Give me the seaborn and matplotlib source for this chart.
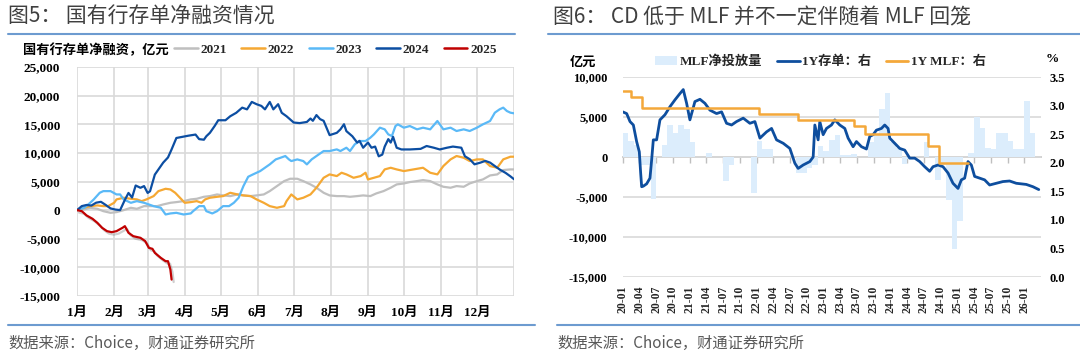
import matplotlib
matplotlib.use("Agg")
import matplotlib.pyplot as plt
import matplotlib.patheffects as pe
from matplotlib.lines import Line2D
from matplotlib.patches import Patch
import numpy as np
import pandas as pd
import seaborn as sns

# ---------------- data: left chart (cumulative net financing, 亿元) ----------------
month_labels = ["1月", "2月", "3月", "4月", "5月", "6月", "7月", "8月", "9月", "10月", "11月", "12月"]
month_start_days = [0, 31, 59, 90, 120, 151, 181, 212, 243, 273, 304, 334]
year_labels = ["2021", "2022", "2023", "2024", "2025"]

days_2021 = [0, 6, 11, 17, 22, 28, 33, 39, 45, 50, 56, 61, 67, 72, 78, 83, 89, 95, 100, 106, 111, 117, 122,
             128, 134, 139, 145, 150, 156, 161, 167, 173, 178, 184, 189, 195, 200, 206, 211, 217, 223, 228,
             234, 239, 245, 250, 256, 262, 267, 273, 278, 284, 289, 295, 301, 306, 312, 317, 323, 328, 334,
             339, 345, 351, 356, 362, 365]
net_2021 = [0, 120, 410, 230, -180, -470, -350, 0, 410, 230, 700, 700, 700, 990, 1280, 1400, 1570, 1870,
            1980, 2330, 2450, 2740, 2570, 2450, 2740, 2570, 2450, 2570, 2740, 3320, 4200, 5070, 5480, 5480,
            5070, 4490, 3910, 3030, 2570, 2450, 2450, 2330, 2450, 2570, 2450, 2920, 3320, 3910, 4490, 4660,
            4900, 5070, 5250, 5070, 4490, 4080, 3910, 4200, 4080, 4660, 5070, 5360, 6060, 6240, 7000, 7110, 7110]

days_2022 = [0, 6, 11, 17, 22, 26, 31, 33, 39, 45, 50, 54, 58, 64, 68, 74, 78, 82, 86, 90, 95, 100, 104, 107,
             111, 117, 122, 128, 134, 139, 145, 150, 156, 161, 167, 173, 175, 179, 184, 189, 195, 200, 206,
             211, 217, 221, 225, 231, 237, 241, 243, 248, 253, 257, 262, 267, 273, 281, 289, 295, 301, 306,
             312, 317, 323, 328, 334, 339, 345, 351, 356, 362, 365]
net_2022 = [0, 410, 700, 820, 700, 700, 1280, 1870, 2160, 1980, 1870, 1570, 1870, 2450, 3320, 3730, 3610,
            3030, 2160, 1280, 1400, 1570, 1280, 1870, 2160, 2330, 2450, 3030, 2740, 2570, 2450, 1870, 1280,
            700, 410, 700, 1570, 2740, 1870, 2160, 2740, 3910, 5650, 6240, 5950, 6530, 6240, 5650, 5950,
            6530, 5360, 5650, 5950, 7110, 7400, 7110, 6820, 7110, 7400, 6530, 6240, 7700, 8860, 9450, 9150,
            8570, 8860, 8860, 7700, 7400, 8860, 9330, 9330]

days_2023 = [0, 6, 11, 14, 19, 22, 28, 33, 36, 39, 42, 45, 50, 56, 60, 64, 70, 74, 78, 83, 89, 95, 97, 102,
             106, 108, 113, 117, 122, 127, 131, 135, 139, 143, 147, 153, 159, 161, 166, 170, 174, 177, 179,
             184, 189, 192, 196, 200, 206, 211, 217, 220, 225, 228, 232, 236, 241, 245, 248, 253, 257, 260,
             263, 266, 268, 273, 278, 284, 289, 295, 301, 306, 312, 317, 323, 328, 334, 339, 345, 349, 353,
             356, 359, 362, 365]
net_2023 = [0, 410, 1280, 1870, 3030, 3320, 3320, 2740, 2740, 1870, 1570, 1280, 1570, 1280, 990, 700, 410,
            -760, -580, -470, -760, -580, -180, 700, 700, -180, -580, -180, 700, 700, 1280, 2160, 4200, 5830,
            6240, 6820, 7700, 7990, 8860, 9150, 9450, 8860, 8570, 8860, 8570, 7990, 8860, 9450, 10320, 10320,
            10610, 10320, 10900, 10320, 11490, 12070, 12070, 12650, 13230, 14400, 14110, 13230, 12940, 14690,
            14980, 14400, 14690, 14110, 14400, 14110, 15570, 14110, 14400, 13820, 14110, 13820, 14400, 14980,
            15570, 17020, 17610, 17900, 17320, 17020, 16910]

days_2024 = [0, 4, 8, 12, 16, 20, 24, 28, 32, 36, 40, 43, 46, 49, 53, 56, 59, 61, 65, 68, 72, 76, 79, 83,
             88, 93, 99, 102, 106, 108, 111, 115, 118, 124, 128, 133, 138, 142, 146, 150, 154, 157, 161, 164,
             168, 171, 175, 181, 186, 192, 195, 197, 200, 203, 206, 211, 217, 220, 223, 225, 230, 234, 236,
             239, 243, 246, 249, 252, 255, 257, 260, 262, 264, 267, 271, 278, 287, 292, 298, 303, 309, 314,
             321, 324, 328, 332, 337, 341, 345, 349, 353, 358, 362, 365]
net_2024 = [0, 700, 900, 800, 1300, 1450, 900, 300, 100, 0, 1800, 3000, 2200, 4300, 3900, 4200, 3000, 3300,
            6200, 7100, 8300, 9200, 10600, 12600, 12800, 13000, 13200, 12400, 12300, 12900, 13500, 14700,
            15700, 15700, 16400, 17000, 17900, 17600, 18900, 18500, 18200, 17600, 18900, 17600, 18500, 17000,
            16400, 15300, 15200, 15400, 16000, 15600, 16600, 15900, 15600, 13100, 13500, 14100, 15000, 13800,
            12900, 11800, 12100, 10900, 11800, 10900, 11100, 9400, 9700, 11100, 12400, 11800, 12800, 10900,
            10600, 10600, 10700, 11200, 10900, 10600, 10900, 11100, 10900, 9400, 8900, 8000, 8300, 8600, 8300,
            7700, 7100, 6500, 5900, 5400]

days_2025 = [0, 4, 8, 13, 17, 21, 25, 29, 33, 38, 40, 43, 47, 53, 57, 60, 63, 65, 70, 74, 76, 78, 79]
net_2025 = [0, -180, -930, -1520, -2220, -3090, -3670, -3850, -3670, -3090, -2800, -3960, -4550, -4840,
            -5420, -6590, -6760, -7460, -8340, -8920, -8920, -10380, -12130]

left_yticks = [25000, 20000, 15000, 10000, 5000, 0, -5000, -10000, -15000]
left_ytick_labels = ["25,000", "20,000", "15,000", "10,000", "5,000", "0", "-5,000", "-10,000", "-15,000"]

# ---------------- data: right chart ----------------
quarter_labels = ["20-01", "20-04", "20-07", "20-10", "21-01", "21-04", "21-07", "21-10",
                  "22-01", "22-04", "22-07", "22-10", "23-01", "23-04", "23-07", "23-10",
                  "24-01", "24-04", "24-07", "24-10", "25-01", "25-04", "25-07", "25-10", "26-01"]
# monthly MLF net injection (亿元), from 2020-01
mlf_net = [3000, 2000, 1500, -1000, -1000, -5200, 0, 1500, 4000, 3000,
           4000, 3500, 1900, 0, 0, 500, 0, 0, -3000, -1000,
           0, 0, 0, -4500, 2000, 1000, 1000, 0, 0, 0,
           0, -2000, -2000, -1400, -1000, 1400, 800, 2100, 2800, 200,
           250, 350, 0, 0, 1900, 2900, 6000, 8000, 1900, 1100,
           -900, -300, 0, 0, 1900, 0, -2900, -1000, -5400, -11500,
           -8000, 0, 550, 5000, 3600, 1100, 1000, 3000, 3000, 2000,
           1000, 1000, 7000, 3000]
# 1Y CD rate (%), x in months since 2020-01
cd_month = [0, 0.71, 1.31, 1.91, 2.5, 2.98, 3.22, 3.4, 3.7, 4.29,
            4.89, 5.19, 5.49, 6.08, 6.68, 7.58, 8.47, 9.37, 10.26, 10.86,
            11.46, 12.05, 12.95, 13.85, 14.74, 15.64, 16.83, 17.73, 18.62, 19.52,
            20.41, 21.61, 22.8, 23.7, 24.6, 25.79, 26.69, 27.58, 28.78, 29.97,
            30.87, 31.46, 32.36, 33.55, 34.15, 34.45, 35.04, 35.34, 35.94, 36.54,
            37.43, 38.03, 38.92, 39.82, 40.42, 41.31, 41.91, 42.81, 43.7, 44.3,
            44.9, 45.49, 46.39, 46.98, 47.58, 47.88, 48.77, 49.67, 50.57, 51.46,
            52.36, 53.25, 54.15, 55.04, 55.64, 56.54, 57.43, 58.33, 59.22, 60.12,
            60.72, 61.31, 61.91, 62.51, 63.1, 64.0, 64.89, 65.79, 66.98, 68.17,
            69.37, 70.57, 72.36, 73.55, 74.6]
cd_rate = [2.89, 2.86, 2.72, 2.66, 2.37, 2.19, 1.82, 1.58, 1.59, 1.63,
           1.73, 2.05, 2.40, 2.40, 2.75, 2.84, 2.98, 3.10, 3.21, 3.28,
           3.04, 2.75, 3.07, 3.11, 3.04, 2.92, 2.86, 2.89, 2.69, 2.66,
           2.72, 2.78, 2.69, 2.72, 2.43, 2.54, 2.60, 2.40, 2.34, 2.25,
           1.99, 1.90, 1.96, 2.02, 2.10, 2.66, 2.40, 2.72, 2.49, 2.60,
           2.66, 2.75, 2.66, 2.60, 2.43, 2.28, 2.37, 2.28, 2.24, 2.46,
           2.49, 2.57, 2.60, 2.66, 2.60, 2.43, 2.34, 2.25, 2.22, 2.08,
           2.08, 2.02, 1.93, 1.85, 1.93, 1.96, 1.93, 1.82, 1.64, 1.55,
           1.70, 1.73, 2.02, 1.96, 1.76, 1.73, 1.70, 1.61, 1.64, 1.67,
           1.68, 1.64, 1.62, 1.58, 1.53]
# 1Y MLF rate steps
mlf_change_dates = ["2020-01-01", "2020-02-17", "2020-04-15", "2022-01-17", "2022-08-15",
                    "2023-06-15", "2023-08-15", "2024-07-25", "2024-09-25", "2025-03-01"]
mlf_rate = [3.25, 3.15, 2.95, 2.85, 2.75, 2.65, 2.50, 2.30, 2.00, 2.00]

right_left_ticks = [10000, 5000, 0, -5000, -10000, -15000]
right_left_labels = ["10,000", "5,000", "0", "-5,000", "-10,000", "-15,000"]
right_right_ticks = [3.5, 3.0, 2.5, 2.0, 1.5, 1.0, 0.5, 0.0]
right_right_labels = ["3.5", "3.0", "2.5", "2.0", "1.5", "1.0", "0.5", "0.0"]

# ---------------- style ----------------
sns.set_theme(style="white")
SERIF = ["Liberation Serif", "Noto Sans CJK SC", "DejaVu Sans"]
SANS = ["Noto Sans CJK SC", "DejaVu Sans"]
plt.rcParams["font.family"] = SERIF

C21, C22, C23, C24, C25 = "#bfbfbf", "#f5a833", "#5ab9f7", "#0c4ea2", "#c00000"
BAR_C, CD_C, MLF_C = "#dcedfc", "#0e4e9e", "#f4a83a"
GRID_C = "#d9d9d9"
RULE_C = "#6d9bd0"
TITLE_C = "#404040"

fig = plt.figure(figsize=(10.8, 3.58), dpi=100)


def fx(p):
    return p / 1080.0


def fy(p):
    return 1.0 - p / 358.0


def rule(x0, x1, y):
    fig.add_artist(Line2D([fx(x0), fx(x1)], [fy(y), fy(y)], transform=fig.transFigure,
                          color=RULE_C, lw=1.5))


# ---------------- left panel ----------------
axL = fig.add_axes([fx(77), fy(296), (514 - 77) / 1080.0, (296 - 67) / 358.0])
series = [(days_2021, net_2021, C21), (days_2022, net_2022, C22), (days_2023, net_2023, C23),
          (days_2024, net_2024, C24), (days_2025, net_2025, C25)]
for d, v, c in series:
    sns.lineplot(x=d, y=v, ax=axL, color=c, linewidth=1.6, estimator=None, sort=False)
axL.lines[-1].set_path_effects([pe.SimpleLineShadow(offset=(1.5, -1.8), shadow_color="#777777", alpha=0.35),
                                pe.Normal()])
axL.set_xlim(0, 365)
axL.set_ylim(-15000, 25000)
axL.set_xticks(month_start_days + [365])
axL.set_xticklabels(month_labels + [""])
axL.set_yticks(left_yticks)
axL.set_yticklabels(left_ytick_labels)
axL.grid(True, color=GRID_C, lw=1.2)
axL.set_axisbelow(True)
axL.tick_params(axis="both", length=0)
axL.tick_params(axis="y", pad=12)
axL.tick_params(axis="x", pad=8)
axL.set_xlabel("")
axL.set_ylabel("")
for s in axL.spines.values():
    s.set_visible(False)
for lbl in axL.get_xticklabels() + axL.get_yticklabels():
    lbl.set_fontfamily(SERIF)
    lbl.set_fontweight("bold")
    lbl.set_fontsize(9.5)
    lbl.set_color("black")

fig.text(fx(8), fy(17), "图5： 国有行存单净融资情况", fontsize=15, color=TITLE_C, family=SANS,
         ha="left", va="center")
rule(8, 515, 34)
fig.text(fx(23), fy(50), "国有行存单净融资，亿元", fontsize=9.5, family=SANS, weight="bold",
         ha="left", va="center", color="black")
left_handles = [Line2D([], [], color=c, lw=1.8) for _, _, c in series]
fig.legend(left_handles, year_labels, loc="center left", bbox_to_anchor=(fx(174), fy(50)),
           ncol=5, frameon=False, handlelength=1.8, handletextpad=0.2, columnspacing=1.1,
           borderpad=0, borderaxespad=0, prop=dict(family=SERIF, weight="bold", size=9.5))
rule(8, 535, 325)
fig.text(fx(8), fy(343), "数据来源：Choice，财通证券研究所", fontsize=11, family=SANS,
         color="#595959", ha="left", va="center")

# ---------------- right panel ----------------
axR = fig.add_axes([fx(622.7), fy(277), (1041 - 622.7) / 1080.0, 200 / 358.0])
bar_pos = np.arange(len(mlf_net)) + 0.5
sns.barplot(x=bar_pos, y=mlf_net, native_scale=True, orient="x", width=1, color=BAR_C,
            saturation=1, linewidth=0, errorbar=None, ax=axR)
axR.set_xlim(0, 75)
axR.set_ylim(-15000, 10000)
axR.set_yticks(right_left_ticks)
axR.set_yticklabels(right_left_labels)
quarter_pos = np.arange(0, 3 * len(quarter_labels), 3)
axR.set_xticks(quarter_pos)
axR.set_xticklabels(quarter_labels, rotation=90)
axR.yaxis.grid(True, color=GRID_C, lw=1.2)
axR.xaxis.grid(False)
axR.set_axisbelow(True)
axR.tick_params(axis="both", length=0)
axR.tick_params(axis="y", pad=11)
axR.tick_params(axis="x", pad=6)
axR.set_xlabel("")
axR.set_ylabel("")
for s in axR.spines.values():
    s.set_visible(False)

sec = axR.secondary_xaxis(0.6)
sec.set_alignment("bottom")
sec.set_xticks(quarter_pos)
sec.set_xticklabels([""] * len(quarter_pos))
sec.tick_params(length=4, width=1, color="#bfbfbf")
for s in sec.spines.values():
    s.set_color("#bfbfbf")
    s.set_linewidth(1.2)

axR2 = axR.twinx()
mlf_dt = pd.to_datetime(mlf_change_dates)
mlf_pos = (mlf_dt.year - 2020) * 12 + (mlf_dt.month - 1) + (mlf_dt.day - 1) / mlf_dt.days_in_month
sns.lineplot(x=cd_month, y=cd_rate, ax=axR2, color=CD_C, linewidth=2.0, estimator=None)
sns.lineplot(x=np.asarray(mlf_pos, dtype=float), y=mlf_rate, ax=axR2, color=MLF_C, linewidth=1.8,
             estimator=None, drawstyle="steps-post")
axR2.set_ylim(0, 3.5)
axR2.set_xlim(0, 75)
axR2.set_yticks(right_right_ticks)
axR2.set_yticklabels(right_right_labels)
axR2.tick_params(axis="both", length=0)
axR2.tick_params(axis="y", pad=6)
axR2.set_xlabel("")
axR2.set_ylabel("")
axR2.grid(False)
for s in axR2.spines.values():
    s.set_visible(False)

for lbl in axR.get_xticklabels():
    lbl.set_fontfamily(SERIF)
    lbl.set_fontweight("bold")
    lbl.set_fontsize(8.5)
for lbl in axR.get_yticklabels() + axR2.get_yticklabels():
    lbl.set_fontfamily(SERIF)
    lbl.set_fontweight("bold")
    lbl.set_fontsize(9)
    lbl.set_color("black")

fig.text(fx(553), fy(17), "图6： CD 低于 MLF 并不一定伴随着 MLF 回笼", fontsize=15, color=TITLE_C,
         family=SANS, ha="left", va="center")
rule(548, 1080, 34)
fig.text(fx(583), fy(62), "亿元", fontsize=9.5, family=SANS, weight="bold", ha="center", va="center",
         color="black")
fig.text(fx(1052), fy(59), "%", fontsize=9.5, family=SERIF, weight="bold", ha="center", va="center",
         color="black")
right_handles = [Patch(facecolor=BAR_C, edgecolor="none"),
                 Line2D([], [], color=CD_C, lw=2.0),
                 Line2D([], [], color=MLF_C, lw=2.0)]
fig.legend(right_handles, ["MLF净投放量", "1Y存单：右", "1Y MLF：右"], loc="center left",
           bbox_to_anchor=(fx(655), fy(62)), ncol=3, frameon=False, handlelength=1.7,
           handletextpad=0.2, columnspacing=1.1, borderpad=0, borderaxespad=0,
           prop=dict(family=SERIF, weight="bold", size=9.5))
rule(557, 1080, 325)
fig.text(fx(557), fy(343), "数据来源：Choice，财通证券研究所", fontsize=11, family=SANS,
         color="#595959", ha="left", va="center")

fig.savefig("out.png", dpi=100)
